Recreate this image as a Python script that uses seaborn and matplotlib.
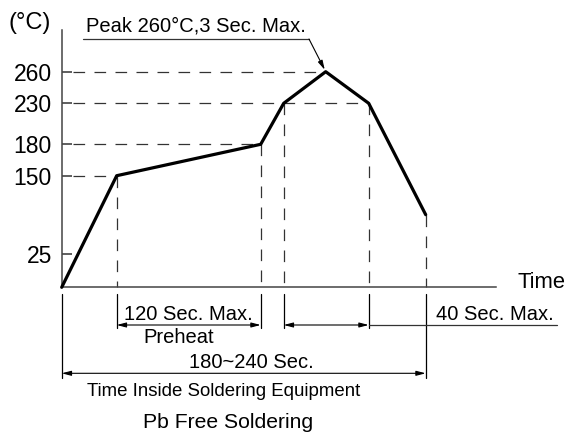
import numpy as np
import matplotlib
matplotlib.use("Agg")
import matplotlib.pyplot as plt
import matplotlib.transforms as mtransforms
import seaborn as sns

# ---------------- data ----------------
temp_ticks = [25, 150, 180, 230, 260]
tick_labels = ["25", "150", "180", "230", "260"]
profile_time = [0, 55, 199, 222, 264, 307, 364]      # schematic time units
profile_temp = [0, 150, 180, 230, 260, 230, 88]      # degrees C
axis_time_end = 434
axis_temp_top = 300
leader_end_time = 495

# ---------------- style ----------------
sns.set_theme(style="white")
plt.rcParams["font.family"] = ["Liberation Sans", "DejaVu Sans"]

W, H = 569, 437
fig = plt.figure(figsize=(W / 100, H / 100), dpi=100)
ax = fig.add_axes([0, 0, 1, 1])
ax.set_facecolor("white")

# schematic (non-linear) temperature scale
_Tk = np.array([-400, 0, 25, 150, 180, 230, 260, 700], dtype=float)
_Pk = np.array([815.3, 287.3, 254.3, 175.7, 144.3, 103.3, 71.7, -391.6])


def fwd(t):
    return -np.interp(np.asarray(t, dtype=float), _Tk, _Pk)


def inv(v):
    return np.interp(-np.asarray(v, dtype=float), _Pk[::-1], _Tk[::-1])


ax.set_yscale("function", functions=(fwd, inv))
ax.set_xlim(-61.7, W - 61.7)
ax.set_ylim(float(inv(-H)), float(inv(0)))

# pixel transform (from top-left) for annotations
PX = mtransforms.Affine2D().scale(1 / W, -1 / H).translate(0, 1) + fig.transFigure
XB = mtransforms.blended_transform_factory(ax.transData, PX)

LC = "#333333"
# dashed guides
dash = (0, (9.3, 7.5))
pts = list(zip(profile_time, profile_temp))
for (t, T) in [pts[1], pts[2], pts[4]]:
    ax.plot([11, t], [T, T], color=LC, lw=0.9, ls=dash, zorder=2)
ax.plot([11, profile_time[5]], [230, 230], color=LC, lw=0.9, ls=dash, zorder=2)
for (t, T) in [pts[1], pts[2], pts[3], pts[5], pts[6]]:
    ax.plot([t, t], [T, 0], color=LC, lw=0.9, ls=dash, zorder=2)

# profile
sns.lineplot(x=profile_time, y=profile_temp, sort=False, color="black",
             lw=2.3, ax=ax, zorder=5)

# axes
for s in ["top", "right"]:
    ax.spines[s].set_visible(False)
ax.spines["left"].set_position(("data", 0))
ax.spines["bottom"].set_position(("data", 0))
ax.spines["left"].set_bounds(0, axis_temp_top)
ax.spines["bottom"].set_bounds(0, axis_time_end)
for s in ["left", "bottom"]:
    ax.spines[s].set_color("#444444")
    ax.spines[s].set_linewidth(1.1)
    ax.spines[s].set_zorder(3)
ax.set_xticks([])
ax.set_yticks(temp_ticks, tick_labels)
ax.tick_params(axis="y", direction="in", length=7.2, width=1.1, color="#333333",
               pad=7.0, labelsize=16.5, labelcolor="black", left=True)
ax.grid(False)

# extension lines below axis
for t in [profile_time[0], profile_time[6]]:
    ax.plot([t, t], [294, 378], color="black", lw=0.9, transform=XB)
for t in [profile_time[1], profile_time[2], profile_time[3], profile_time[5]]:
    ax.plot([t, t], [294, 328], color="black", lw=0.9, transform=XB)

# dimension arrows
arr = dict(arrowstyle="<|-|>,head_length=0.5,head_width=0.13", color="black",
           lw=0.8, shrinkA=0, shrinkB=0, mutation_scale=11)
ax.annotate("", xy=(profile_time[1], 325), xytext=(profile_time[2], 325),
            xycoords=XB, textcoords=XB, arrowprops=arr)
ax.annotate("", xy=(profile_time[3], 325), xytext=(profile_time[5], 325),
            xycoords=XB, textcoords=XB, arrowprops=arr)
ax.annotate("", xy=(profile_time[0], 373.3), xytext=(profile_time[6], 373.3),
            xycoords=XB, textcoords=XB, arrowprops=arr)
ax.plot([profile_time[5], leader_end_time], [324.5, 324.5], color="#333333",
        lw=0.9, transform=XB)

# peak label with leader
ax.plot([83, 309], [39, 39], color="#333333", lw=0.9, transform=PX)
ax.annotate("", xy=(profile_time[4], 260), xycoords="data",
            xytext=(309, 39), textcoords=PX,
            arrowprops=dict(arrowstyle="-|>,head_length=0.5,head_width=0.13",
                            color="black", lw=0.8, shrinkA=0, shrinkB=1.5,
                            mutation_scale=11))

# texts
def txt(x, y, s, size, ha="center"):
    ax.text(x, y, s, transform=PX, ha=ha, va="center", fontsize=size,
            color="black")

txt(8, 23.5, "(°C)", 17, ha="left")
txt(86, 25.5, "Peak 260°C,3 Sec. Max.", 14.5, ha="left")
txt(518, 283, "Time", 15.8, ha="left")
txt(124.5, 314.5, "120 Sec. Max.", 14.5, ha="left")
txt(178.5, 337.5, "Preheat", 14.5)
txt(436, 315, "40 Sec. Max.", 14.5, ha="left")
txt(251, 363, "180~240 Sec.", 14.5)
txt(223.7, 392, "Time Inside Soldering Equipment", 13.4)
txt(228, 422, "Pb Free Soldering", 15.2)

fig.savefig("out.png", dpi=100)
